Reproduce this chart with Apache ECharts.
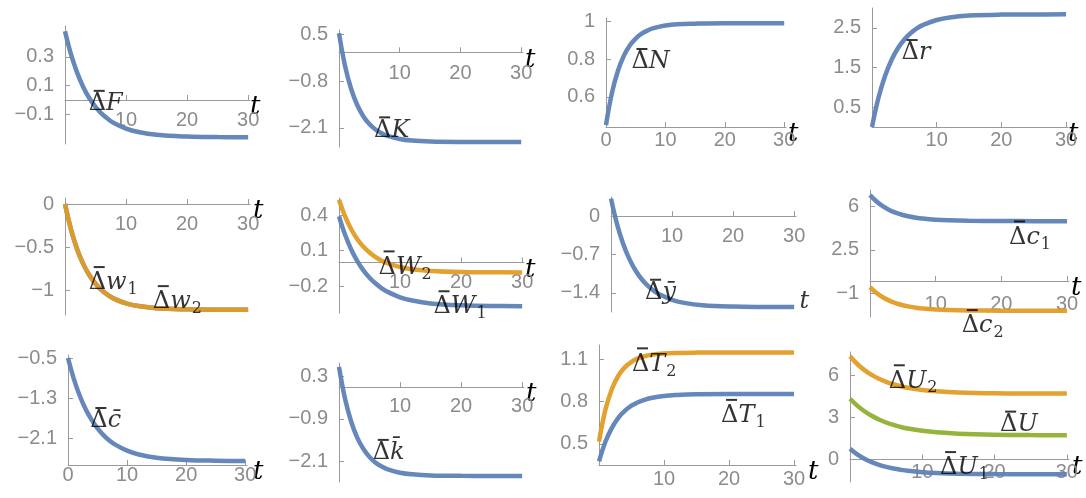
<!DOCTYPE html>
<html>
<head>
<meta charset="utf-8">
<script src="https://cdn.jsdelivr.net/npm/echarts@6/dist/echarts.min.js"></script>
<style>
  html, body { margin: 0; padding: 0; background: #fff; }
  #chartDiv { width: 1086px; height: 498px; }
</style>
</head>
<body>
<div id="chartDiv"></div>
<script>
// 初始化图表
var myChart = echarts.init(document.getElementById('chartDiv'));

// 时间点
var t = [0, 1, 2, 3, 4, 5, 6, 7, 8, 10, 12, 15, 20, 25, 30];

// 各变量的响应值
var dF   = [0.48, 0.316, 0.189, 0.089, 0.012, -0.048, -0.095, -0.131, -0.16, -0.199, -0.223, -0.243, -0.255, -0.259, -0.26];
var dK   = [0.53, -0.382, -1.019, -1.463, -1.774, -1.992, -2.143, -2.248, -2.321, -2.408, -2.451, -2.476, -2.488, -2.49, -2.49];
var dN   = [0.45, 0.621, 0.737, 0.817, 0.872, 0.909, 0.935, 0.952, 0.964, 0.978, 0.985, 0.988, 0.99, 0.99, 0.99];
var dr   = [0, 0.736, 1.281, 1.684, 1.985, 2.207, 2.371, 2.494, 2.582, 2.698, 2.763, 2.809, 2.833, 2.838, 2.84];
var dw1  = [0, -0.298, -0.523, -0.693, -0.822, -0.919, -0.993, -1.048, -1.091, -1.146, -1.177, -1.202, -1.215, -1.219, -1.22];
var dw2  = [0, -0.298, -0.523, -0.693, -0.822, -0.919, -0.993, -1.048, -1.091, -1.146, -1.177, -1.202, -1.215, -1.219, -1.22];
var dW1  = [0.39, 0.234, 0.11, 0.012, -0.067, -0.129, -0.178, -0.218, -0.249, -0.294, -0.322, -0.346, -0.362, -0.368, -0.369];
var dW2  = [0.53, 0.389, 0.281, 0.197, 0.133, 0.084, 0.045, 0.015, -0.007, -0.039, -0.057, -0.072, -0.081, -0.083, -0.084];
var dy   = [0.32, -0.149, -0.506, -0.779, -0.987, -1.147, -1.268, -1.361, -1.432, -1.527, -1.583, -1.626, -1.651, -1.658, -1.66];
var dc1  = [6.9, 6.371, 5.976, 5.68, 5.457, 5.294, 5.17, 5.075, 5.006, 4.916, 4.865, 4.827, 4.806, 4.8, 4.8];
var dc2  = [-0.5, -0.979, -1.336, -1.604, -1.805, -1.953, -2.066, -2.151, -2.214, -2.295, -2.341, -2.375, -2.394, -2.399, -2.4];
var dcb  = [-0.49, -0.912, -1.25, -1.516, -1.728, -1.897, -2.031, -2.138, -2.222, -2.344, -2.42, -2.484, -2.529, -2.544, -2.548];
var dkb  = [0.57, -0.339, -0.979, -1.432, -1.749, -1.974, -2.134, -2.245, -2.322, -2.418, -2.464, -2.495, -2.507, -2.51, -2.51];
var dT1  = [0.375, 0.516, 0.615, 0.686, 0.735, 0.77, 0.795, 0.812, 0.824, 0.839, 0.846, 0.851, 0.853, 0.853, 0.853];
var dT2  = [0.516, 0.744, 0.89, 0.984, 1.043, 1.081, 1.105, 1.12, 1.13, 1.14, 1.144, 1.146, 1.147, 1.147, 1.147];
var dU   = [4.33, 3.839, 3.438, 3.116, 2.853, 2.64, 2.468, 2.328, 2.214, 2.047, 1.938, 1.842, 1.769, 1.743, 1.735];
var dU1  = [0.78, 0.378, 0.065, -0.181, -0.37, -0.518, -0.634, -0.723, -0.794, -0.891, -0.949, -0.997, -1.028, -1.037, -1.039];
var dU2  = [7.34, 6.797, 6.362, 6.02, 5.747, 5.53, 5.358, 5.22, 5.111, 4.955, 4.857, 4.775, 4.716, 4.698, 4.692];

// 刻度
var xTicks  = [10, 20, 30];
var xTicks0 = [0, 10, 20, 30];
var yTicksF  = [-0.1, 0.1, 0.3];
var yTicksK  = [-2.1, -0.8, 0.5];
var yTicksN  = [0.6, 0.8, 1];
var yTicksR  = [0.5, 1.5, 2.5];
var yTicksW  = [-1, -0.5, 0];
var yTicksWW = [-0.2, 0.1, 0.4];
var yTicksY  = [-1.4, -0.7, 0];
var yTicksC  = [-1, 2.5, 6];
var yTicksCB = [-2.1, -1.3, -0.5];
var yTicksKB = [-2.1, -0.9, 0.3];
var yTicksT  = [0.5, 0.8, 1.1];
var yTicksU  = [0, 3, 6];

// 颜色
var BLUE = '#5e81b5', ORANGE = '#e19c24', GREEN = '#8fb032';
var AXIS = '#9a9a9a', TICKLABEL = '#8c8c8c';

// 标签文字 (带横线的 Δ 由 bar 画出)
var BAR = '{sp|}{bar|}\n';
function lab(v, sub) {
    return BAR + '{d|Δ}{v|' + v + '}' + (sub ? '{s|' + sub + '}' : '');
}

// 各子图布局: box = [left, top, width, height]
var panels = [
    { box: [65, 26, 185, 118],  y: [-0.307, 0.516], yt: yTicksF,  xt: xTicks,  xm: 11, tGap: 0,
      lines: [[dF, BLUE]], labels: [[3.8, -0.02, lab('F')]] },
    { box: [339, 30, 184, 117], y: [-2.63, 0.62],   yt: yTicksK,  xt: xTicks,  xm: 11, tGap: 2,
      lines: [[dK, BLUE]], labels: [[5.7, -2.14, lab('K')]] },
    { box: [606, 18, 180, 109], y: [0.44, 1.018],   yt: yTicksN,  xt: xTicks0, xm: 3, tGap: 2,
      lines: [[dN, BLUE]], labels: [[4.2, 0.79, lab('N')]] },
    { box: [872, 8, 196, 119],  y: [0, 3.0],        yt: yTicksR,  xt: xTicks,  xm: 3, tGap: 0,
      lines: [[dr, BLUE]], labels: [[4.5, 1.89, lab('r')]] },
    { box: [65, 198, 185, 117], y: [-1.28, 0.07],   yt: yTicksW,  xt: xTicks,  xm: 10, tGap: 3,
      lines: [[dw1, BLUE], [dw2, ORANGE]],
      labels: [[3.8, -0.9, lab('w', '1')], [14.3, -1.12, lab('w', '2')]] },
    { box: [339, 198, 185, 115], y: [-0.427, 0.545], yt: yTicksWW, xt: xTicks, xm: 10, tGap: 1,
      lines: [[dW1, BLUE], [dW2, ORANGE]],
      labels: [[6.4, -0.033, lab('W', '2')], [15.4, -0.37, lab('W', '1')]] },
    { box: [611, 197, 185, 115], y: [-1.75, 0.35],  yt: yTicksY,  xt: xTicks,  xm: 10, tGap: null,
      lines: [[dy, BLUE]], labels: [[5.5, -1.38, lab('ȳ')], [30.8, -1.56, '{v|t}']] },
    { box: [870, 190, 199, 127], y: [-2.9, 7.3],    yt: yTicksC,  xt: xTicks,  xm: 14, tGap: 2,
      lines: [[dc1, BLUE], [dc2, ORANGE]],
      labels: [[21.1, 3.57, lab('c', '1')], [13.9, -3.55, lab('c', '2')]] },
    { box: [68, 355, 179, 110], y: [-2.63, -0.43],  yt: yTicksCB, xt: xTicks0, xm: 0, tGap: 6,
      lines: [[dcb, BLUE]], labels: [[3.7, -1.73, lab('c\u0304')]] },
    { box: [339, 363, 185, 119], y: [-2.68, 0.68],  yt: yTicksKB, xt: xTicks,  xm: 9, tGap: 2,
      lines: [[dkb, BLUE]], labels: [[5.45, -1.83, lab('k\u0304')]] },
    { box: [599, 345, 197, 120], y: [0.35, 1.2],    yt: yTicksT,  xt: xTicks,  xm: 4, tGap: 12,
      lines: [[dT1, BLUE], [dT2, ORANGE]],
      labels: [[5.0, 1.07, lab('T', '2')], [18.7, 0.705, lab('T', '1')]] },
    { box: [850, 352, 219, 130], y: [-1.59, 7.65],  yt: yTicksU,  xt: xTicks,  xm: 3, tGap: 3,
      lines: [[dU1, BLUE], [dU, GREEN], [dU2, ORANGE]],
      labels: [[5.3, 5.64, lab('U', '2')], [20.7, 2.56, lab('U')], [12.4, -0.53, lab('U', '1')]] }
];

// 富文本标签
var rich = {
    sp:  { width: 5, height: 2 },
    bar: { width: 11, height: 2, backgroundColor: '#000' },
    d: { fontFamily: 'DejaVu Serif', fontSize: 24, color: '#000' },
    v: { fontFamily: 'DejaVu Serif', fontSize: 24, fontStyle: 'italic', color: '#000' },
    s: { fontFamily: 'DejaVu Serif', fontSize: 16, color: '#000', padding: [14, 0, 0, 1] }
};

// 轴名 t (略低于轴线)
var nameRich = {
    t: { fontFamily: 'DejaVu Serif', fontStyle: 'italic', fontSize: 26, color: '#000', padding: [15, 0, 0, 0] }
};

function tickFormatter(v) {
    return String(v).replace('-', '\u2212');
}

var grids = [], xAxes = [], yAxes = [], series = [];
panels.forEach(function (p, i) {
    var h = p.box[3];
    // x 轴放在 y=0 处
    var shift = 0;
    if (p.y[0] < 0 && p.y[1] > 0) {
        shift = -h * (-p.y[0]) / (p.y[1] - p.y[0]);
    }
    grids.push({
        left: p.box[0], top: p.box[1], width: p.box[2], height: h,
        outerBoundsMode: 'none', containLabel: false
    });
    xAxes.push({
        gridIndex: i, type: 'value', min: 0, max: 30.3, position: 'bottom', offset: shift,
        axisLine: { onZero: false, lineStyle: { color: AXIS, width: 1 } },
        axisTick: { inside: true, length: 5, customValues: p.xt, lineStyle: { color: AXIS } },
        axisLabel: { customValues: p.xt, margin: p.xm, color: TICKLABEL, fontFamily: 'Liberation Sans', fontSize: 20, formatter: tickFormatter },
        splitLine: { show: false },
        name: p.tGap === null ? '' : '{t|t}',
        nameLocation: 'end',
        nameGap: p.tGap === null ? 0 : p.tGap,
        nameMoveOverlap: false,
        nameTextStyle: { align: 'left', verticalAlign: 'middle', rich: nameRich }
    });
    yAxes.push({
        gridIndex: i, type: 'value', min: p.y[0], max: p.y[1],
        axisLine: { show: true, onZero: false, lineStyle: { color: AXIS, width: 1 } },
        axisTick: { show: true, inside: true, length: 5, customValues: p.yt, lineStyle: { color: AXIS } },
        axisLabel: { customValues: p.yt, margin: 11, color: TICKLABEL, fontFamily: 'Liberation Sans', fontSize: 20, formatter: tickFormatter },
        splitLine: { show: false }
    });
    p.lines.forEach(function (ln) {
        series.push({
            type: 'line',
            xAxisIndex: i, yAxisIndex: i,
            data: t.map(function (x, j) { return [x, ln[0][j]]; }),
            smooth: 0.4,
            showSymbol: false,
            silent: true,
            clip: false,
            lineStyle: { color: ln[1], width: 4.5, opacity: 0.95 }
        });
    });
    // 曲线名称标签
    series.push({
        type: 'scatter',
        xAxisIndex: i, yAxisIndex: i,
        symbolSize: 1,
        clip: false,
        silent: true,
        itemStyle: { color: 'rgba(0,0,0,0)' },
        label: { show: true, position: 'right', distance: 0, rich: rich },
        data: p.labels.map(function (lb) {
            return { value: [lb[0], lb[1]], label: { formatter: lb[2] } };
        }),
        z: 5
    });
});

var option = {
    backgroundColor: '#fff',
    animation: false,
    grid: grids,
    xAxis: xAxes,
    yAxis: yAxes,
    series: series
};
myChart.setOption(option);
</script>
</body>
</html>
